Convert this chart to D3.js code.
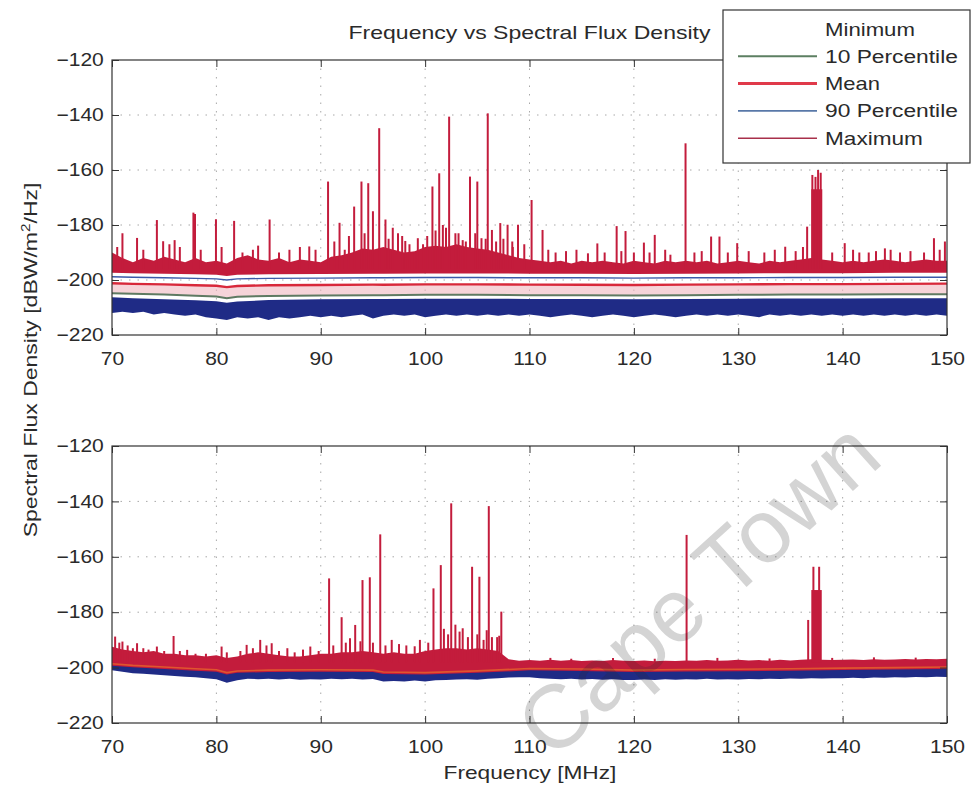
<!DOCTYPE html>
<html><head><meta charset="utf-8">
<script src="https://cdn.jsdelivr.net/npm/d3@7"></script>
<style>
body{margin:0;background:#fff}
svg{display:block}
text{font-family:"Liberation Sans",Arial,sans-serif;fill:#2a2a2a}
</style>
</head><body>
<svg id="chart" width="972" height="790"></svg>
<script>
// ---------------- DATA ----------------
const titleText = "Frequency vs Spectral Flux Density";
const xLabel = "Frequency [MHz]";
const xTicks = [70, 80, 90, 100, 110, 120, 130, 140, 150];
const yTicks = [-220, -200, -180, -160, -140, -120];
const legendNames = ["Minimum", "10 Percentile", "Mean", "90 Percentile", "Maximum"];

// frequency grids (MHz)
const freqFine = d3.range(70, 151, 1);
const freqCoarse = [70,72,75,78,80,81,82,85,90,95,96,100,105,110,115,120,125,130,135,140,145,150];

// ---- upper panel ----
const topMaxHi = [-190,-192,-193.5,-192,-193,-191.5,-192.5,-193.5,-192,-193.5,
  -193,-194,-192,-191,-192.5,-193,-192,-193.5,-192.5,-193,
  -193.5,-191.5,-191,-190,-188.5,-189,-188,-189,-190,-189.5,
  -188,-187.5,-188,-187,-188,-188.5,-189,-190,-191,-192,
  -192.5,-193,-193.5,-193,-194,-193,-193.5,-193,-193.5,-194,
  -193,-193.5,-194,-193,-193.5,-193,-193.5,-193,-194,-193.5,
  -193,-193.5,-194,-193,-193.5,-193,-192.5,-192,-192.5,-193,
  -193.5,-193,-193.5,-193,-192.5,-193,-193.5,-193,-192.5,-193,-193];
const topMaxLo = [-197.4,-197.5,-197.7,-197.9,-198.1,-198.5,-198.1,-197.9,-197.8,-197.7,-197.7,-197.6,-197.6,-197.7,-197.7,-197.8,-197.7,-197.6,-197.5,-197.5,-197.4,-197.4];
const topP90 = [-198.8,-199,-199.2,-199.4,-199.6,-200,-199.6,-199.4,-199.3,-199.2,-199.2,-199.1,-199.1,-199.2,-199.2,-199.3,-199.2,-199.2,-199.1,-199.1,-199,-199];
const topMean = [-201.2,-201.4,-201.6,-201.9,-202.1,-202.6,-202.2,-201.9,-201.8,-201.7,-201.7,-201.6,-201.6,-201.7,-201.7,-201.8,-201.7,-201.6,-201.5,-201.5,-201.4,-201.3];
const topP10 = [-204.8,-205,-205.3,-205.7,-206,-206.6,-206.1,-205.8,-205.6,-205.5,-205.5,-205.4,-205.4,-205.5,-205.5,-205.6,-205.5,-205.4,-205.3,-205.3,-205.2,-205.2];
const topMinHi = [-206.3,-206.6,-207,-207.4,-207.7,-208.3,-207.8,-207.3,-207,-206.9,-206.9,-206.8,-206.8,-206.9,-206.9,-207,-206.9,-206.8,-206.7,-206.7,-206.6,-206.6];
const topMinLo = [-212,-211.5,-212,-211.5,-212.5,-212,-212.5,-213,-212.5,-213.5,
  -214,-214.5,-213.5,-214,-213.5,-214.5,-213.5,-214,-213.5,-213,
  -213.5,-213,-213.5,-213,-212.5,-214,-213,-212.5,-213,-212.5,
  -213.5,-213,-212.5,-213,-212.5,-213,-212.5,-213,-212.5,-213,
  -212.5,-213,-213.5,-213,-212.5,-213,-213.5,-213,-212.5,-213,
  -213.5,-213,-212.5,-213,-213.5,-213,-212.5,-213,-212.5,-213,
  -212.5,-213,-213.5,-212.5,-213,-212.5,-213,-212.5,-213,-212.5,
  -213,-212.5,-213,-212.5,-213,-212.5,-213,-212.5,-213,-212.5,-213];
// [frequency, peak dBW] of the maximum-hold spikes
const topSpikes = [[71.0,-183],[72.4,-184.7],[74.3,-178.2],[74.9,-185.9],[76.0,-185.5],[77.8,-175.5],[77.95,-176],
  [79.96,-177.9],[81.7,-178.5],[85.1,-178],[87.0,-189],[88.9,-187.8],[90.7,-164.2],[91.8,-179.2],[92.3,-189],
  [93.2,-173.3],[93.9,-164.2],[94.55,-164.8],[95.0,-175],[95.6,-144.8],[96.2,-178],[96.9,-181],[97.4,-183],
  [98.1,-185.8],[98.95,-190],[99.3,-184.8],[100.7,-166],[101.35,-161.2],[101.7,-180],[102.3,-140.6],[102.9,-183],
  [103.6,-185.5],[104.3,-162.4],[105.0,-164.2],[105.4,-184.8],[106.0,-139.4],[106.4,-181.8],[107.2,-179.3],
  [107.9,-179.9],[108.35,-186],[108.9,-179.9],[110.2,-170.9],[111.25,-181.8],[115.6,-190.3],[116.5,-186.7],
  [118.35,-180.4],[119.2,-182.2],[120.96,-186.4],[122.0,-183.6],[123.5,-190.8],[124.95,-150.3],[127.4,-184.2],
  [128.2,-184.2],[129.9,-186.6],[134.5,-187.9],[136.6,-180.6],[137.1,-161.8],[137.4,-162.5],[137.65,-160],
  [137.9,-161],[140.2,-186.6],[141.6,-190],[144.05,-188.5],[144.6,-189],[148.75,-184.8],[149.8,-186],
  [70.5,-188],[73.0,-189],[75.5,-187],[76.5,-188],[78.5,-189],[80.5,-188],[82.5,-190],[83.5,-189],[84.0,-187.5],
  [86.0,-190],[88.0,-188],[89.5,-189],[91.3,-186],[92.7,-184],[94.2,-183],[96.5,-185],[97.8,-184],[98.5,-187],
  [99.8,-187],[100.2,-184],[101.0,-182],[102.0,-181],[103.2,-183],[103.9,-186],[104.8,-183],[105.8,-185],
  [106.8,-186],[107.5,-185],[108.4,-188],[109.5,-187],[111.8,-189],[112.5,-190],[113.5,-189.5],[114.5,-189],
  [117.2,-190],[118.8,-189.5],[120.0,-190],[121.5,-190],[123.0,-189],[125.8,-190],[126.5,-189.5],[129.0,-190],
  [131.0,-189.5],[132.5,-190],[133.5,-189],[135.5,-189.5],[136.2,-188],[139.0,-190],[141.0,-189],[142.5,-190],
  [143.2,-189.5],[145.5,-190],[146.5,-189.5],[147.8,-190],[149.3,-189]];
const topCluster = [137.0, 138.05, -167];

// ---- lower panel ----
const botMaxHi = [-192.5,-193.5,-194,-194.5,-194,-195,-195,-195.5,-195.5,-196,
  -195.5,-196.5,-196,-195,-194.5,-195,-195.5,-196,-196,-195.5,
  -195,-195,-194.5,-194.5,-194,-194.5,-195,-194.5,-195,-195,
  -194,-193.5,-193,-193,-193.5,-193,-193.5,-194,-197,-197.5,
  -197.3,-197.5,-197.2,-197.5,-197.3,-197.6,-197.4,-197.6,-197.3,-197.5,
  -197.6,-197.4,-197.7,-197.5,-197.6,-197.4,-197.5,-197.3,-197.5,-197.4,
  -197.2,-197.4,-197.3,-197.5,-197.2,-197.4,-197.2,-197,-197.2,-197.3,
  -197.2,-197.1,-197.3,-197,-197.2,-197.1,-196.9,-197.1,-196.9,-197,-196.8];
const botMean = [-198.6,-199.2,-199.8,-200.4,-200.8,-201.8,-201.2,-200.9,-200.8,-200.9,-201.6,-201.8,-201.2,-200.3,-200.5,-200.9,-200.7,-200.6,-200.4,-200.2,-200,-199.8];
const botMaxLo = [-199.3,-199.9,-200.5,-201.1,-201.5,-202.5,-201.9,-201.6,-201.5,-201.6,-202.3,-202.5,-201.9,-201,-201.2,-201.6,-201.4,-201.3,-201.1,-200.9,-200.7,-200.5];
const botMinHi = [-198.8,-199.4,-200,-200.6,-201,-202,-201.4,-201.1,-201,-201.1,-201.8,-202,-201.4,-200.5,-200.7,-201.1,-200.9,-200.8,-200.6,-200.4,-200.2,-200];
const botMinLo = [-201,-201.5,-202,-202.2,-202.5,-202.8,-203,-203.3,-203.5,-203.8,
  -204.2,-205.5,-204.6,-204,-204.2,-204,-204.3,-204,-204.4,-204.2,
  -204.3,-204,-204.2,-204,-204.3,-204.1,-205,-204.8,-205,-204.7,
  -205,-204.6,-204.5,-204.3,-204.2,-204.4,-204,-203.8,-203.6,-203.5,
  -203.5,-203.8,-204,-204.2,-204,-204.3,-204.1,-204.4,-204.2,-204.5,
  -204.5,-204.3,-204.5,-204.2,-204.4,-204.2,-204.3,-204,-204.3,-204.2,
  -204.3,-204.1,-204.2,-204,-204.1,-203.9,-204,-203.8,-203.9,-203.8,
  -203.8,-203.7,-203.8,-203.6,-203.7,-203.5,-203.6,-203.4,-203.5,-203.3,-203.4];
const botSpikes = [[90.8,-167.8],[92.0,-181.8],[92.8,-189.4],[93.3,-184.6],[94.0,-168.4],[94.7,-167.4],[95.7,-151.9],
  [100.8,-171.4],[101.5,-163],[102.5,-140.7],[103.6,-185.8],[104.5,-163.6],[105.2,-167.2],[105.6,-190],[106.1,-141.7],
  [107.3,-179.8],[125.05,-152.1],[136.7,-182.8],[137.2,-163.6],[137.75,-163.6],
  [70.3,-188.8],[70.7,-191],[71.0,-190.6],[71.5,-192],[72.0,-193],[72.4,-191.2],[73.0,-193],[73.5,-193.5],
  [74.3,-192.4],[75.0,-194],[75.9,-188.6],[76.5,-194],[77.2,-193.6],[78.0,-195],[79.0,-195],[80.5,-192.4],
  [81.0,-194.5],[82.3,-194],[82.9,-191.8],[83.5,-193],[84.2,-190],[84.8,-192],[85.3,-191.2],[86.0,-194],
  [86.8,-193],[87.5,-194.5],[88.3,-193.5],[89.0,-192.4],[89.8,-194],[91.2,-192],[92.4,-191],[93.8,-190.5],
  [95.0,-191],[96.2,-192],[96.8,-190],[97.5,-191.5],[98.2,-192],[99.0,-192.3],[99.5,-190],[100.3,-191],
  [101.8,-186],[102.2,-188],[102.9,-184.5],[103.3,-187],[104.1,-189],[105.0,-188],[105.9,-186.5],[106.4,-189],
  [106.9,-189],[107.1,-188.5],[112.0,-196.5],[114.0,-196.8],[118.0,-196.5],[122.0,-196.8],[128.0,-196.5],
  [133.0,-196.7],[139.0,-196.5],[143.0,-196.3],[147.0,-196.4]];
const botCluster = [137.0, 138.0, -172];

// ---------------- DRAWING ----------------
const svg = d3.select("#chart");
const X0 = 112, X1 = 947;
const x = d3.scaleLinear().domain([70, 150]).range([X0, X1]);
const C = {navy:"#1f2b86", max:"#c31c3c", mean:"#d8283a", p90:"#3a58a8", p10:"#5f7a62", botMean:"#e0552e"};

const zipF = (fs, vs) => fs.map((f, i) => [f, vs[i]]);

function bandPath(y, hiF, hiV, loF, loV) {
  const ln = d3.line().x(d => x(d[0])).y(d => y(d[1]));
  const pts = zipF(hiF, hiV).concat(zipF(loF, loV).reverse());
  return ln(pts) + "Z";
}

function drawPanel(cfg, idx) {
  const y = d3.scaleLinear().domain([-220, -120]).range([cfg.bottom, cfg.top]);
  const g = svg.append("g");
  const clipId = "clip" + idx;
  svg.append("defs").append("clipPath").attr("id", clipId)
    .append("rect").attr("x", X0).attr("y", cfg.top).attr("width", X1 - X0).attr("height", cfg.bottom - cfg.top);

  // dotted grid
  const grid = g.append("g").attr("stroke", "#a8a8a8").attr("stroke-width", 1).attr("stroke-dasharray", "1.5,7");
  grid.selectAll("line.vx").data(xTicks.slice(1, -1)).join("line")
    .attr("x1", d => x(d)).attr("x2", d => x(d)).attr("y1", cfg.top).attr("y2", cfg.bottom);
  grid.selectAll("line.hy").data(yTicks.slice(1, -1)).join("line")
    .attr("x1", X0).attr("x2", X1).attr("y1", d => y(d)).attr("y2", d => y(d));

  const d = g.append("g").attr("clip-path", `url(#${clipId})`);
  const ln = d3.line().x(p => x(p[0])).y(p => y(p[1]));
  const S = cfg.series;

  if (idx === 0) {
    d.append("path").attr("d", bandPath(y, freqCoarse, S.mean, freqCoarse, S.p10)).attr("fill", "#f0b8c0").attr("fill-opacity", 0.6);
    d.append("path").attr("d", bandPath(y, freqFine, S.maxHi, freqCoarse, S.maxLo)).attr("fill", C.max);
    d.append("path").attr("d", ln(zipF(freqCoarse, S.p90))).attr("fill", "none").attr("stroke", C.p90).attr("stroke-width", 1.4);
    d.append("path").attr("d", ln(zipF(freqCoarse, S.mean))).attr("fill", "none").attr("stroke", C.mean).attr("stroke-width", 2.4);
    d.append("path").attr("d", ln(zipF(freqCoarse, S.p10))).attr("fill", "none").attr("stroke", C.p10).attr("stroke-width", 2);
    d.append("path").attr("d", bandPath(y, freqCoarse, S.minHi, freqFine, S.minLo)).attr("fill", C.navy);
  } else {
    d.append("path").attr("d", bandPath(y, freqCoarse, S.minHi, freqFine, S.minLo)).attr("fill", C.navy);
    d.append("path").attr("d", bandPath(y, freqFine, S.maxHi, freqCoarse, S.maxLo)).attr("fill", C.max);
    d.append("path").attr("d", ln(zipF(freqCoarse, S.mean))).attr("fill", "none").attr("stroke", C.botMean).attr("stroke-width", 1.6);
  }
  const cl = cfg.cluster;
  d.append("rect").attr("x", x(cl[0])).attr("width", x(cl[1]) - x(cl[0]))
    .attr("y", y(cl[2])).attr("height", y(cfg.spikeBase) - y(cl[2])).attr("fill", C.max);
  d.selectAll("line.spk").data(cfg.spikes).join("line").attr("class", "spk")
    .attr("x1", p => x(p[0])).attr("x2", p => x(p[0]))
    .attr("y1", y(cfg.spikeBase)).attr("y2", p => y(p[1]))
    .attr("stroke", C.max).attr("stroke-width", 2);

  g.append("rect").attr("x", X0).attr("y", cfg.top).attr("width", X1 - X0).attr("height", cfg.bottom - cfg.top)
    .attr("fill", "none").attr("stroke", "#333").attr("stroke-width", 1.2);

  const sx = 1.17;
  const ax = g.append("g").attr("transform", `translate(0,${cfg.bottom})`)
    .call(d3.axisBottom(x).tickValues(xTicks).tickSizeInner(-7).tickSizeOuter(0).tickPadding(17));
  ax.selectAll("text").attr("transform", `scale(${sx},1)`);
  g.append("g").attr("transform", `translate(0,${cfg.top})`)
    .call(d3.axisTop(x).tickValues(xTicks).tickSizeInner(-7).tickSizeOuter(0).tickFormat(""));
  const ay = g.append("g").attr("transform", `translate(${X0},0)`)
    .call(d3.axisLeft(y).tickValues(yTicks).tickSizeInner(-7).tickSizeOuter(0).tickPadding(7));
  ay.selectAll("text").attr("transform", `scale(${sx},1)`);
  g.append("g").attr("transform", `translate(${X1},0)`)
    .call(d3.axisRight(y).tickValues(yTicks).tickSizeInner(-7).tickSizeOuter(0).tickFormat(""));
  g.selectAll(".domain").remove();
  g.selectAll(".tick line").attr("stroke", "#333");
  g.selectAll(".tick text").attr("font-size", 18).attr("fill", "#2a2a2a")
    .attr("font-family", '"Liberation Sans",Arial,sans-serif');
}

drawPanel({top: 60, bottom: 335, spikeBase: -196, spikes: topSpikes, cluster: topCluster,
  series: {maxHi: topMaxHi, maxLo: topMaxLo, p90: topP90, mean: topMean, p10: topP10, minHi: topMinHi, minLo: topMinLo}}, 0);
drawPanel({top: 446, bottom: 723, spikeBase: -198, spikes: botSpikes, cluster: botCluster,
  series: {maxHi: botMaxHi, maxLo: botMaxLo, mean: botMean, minHi: botMinHi, minLo: botMinLo}}, 1);

function fitText(parent, tx, ty, rot, target, build, anchor) {
  const g = parent.append("g");
  const t = g.append("text").attr("font-size", 18).attr("text-anchor", anchor || "middle");
  build(t);
  const L = t.node().getComputedTextLength();
  const s = target / L;
  g.attr("transform", `translate(${tx},${ty}) rotate(${rot}) scale(${s},1)`);
  return s;
}

fitText(svg, 529.5, 39, 0, 362, t => t.text(titleText));
fitText(svg, 530, 779, 0, 173, t => t.text(xLabel));
fitText(svg, 37, 360, -90, 355, t => {
  t.append("tspan").text("Spectral Flux Density [dBW/m");
  t.append("tspan").attr("font-size", 12).attr("dy", -7).text("2");
  t.append("tspan").attr("dy", 7).text("/Hz]");
});

const leg = svg.append("g");
leg.append("rect").attr("x", 723).attr("y", 10).attr("width", 247).attr("height", 153)
  .attr("fill", "#fff").attr("stroke", "#333").attr("stroke-width", 1.2);
const legStyle = [
  {c: "#ffffff", w: 1},
  {c: "#5c7f62", w: 2},
  {c: "#e03a4a", w: 3},
  {c: "#5878a8", w: 1.6},
  {c: "#a8304a", w: 1.6}
];
const legTargets = [90, 133, 55, 133, 98];
legendNames.forEach((name, i) => {
  const cy = 29 + i * 27.3;
  leg.append("line").attr("x1", 738).attr("x2", 817).attr("y1", cy).attr("y2", cy)
    .attr("stroke", legStyle[i].c).attr("stroke-width", legStyle[i].w);
  fitText(leg, 825, cy + 6.5, 0, legTargets[i], t => t.text(name), "start");
});

// watermark (kept fully inside the picture)
svg.append("text").attr("transform", "translate(552,762) rotate(-42)")
  .attr("font-size", 90).attr("fill", "#888").attr("fill-opacity", 0.2)
  .text("Cape Town");
</script>
</body></html>
